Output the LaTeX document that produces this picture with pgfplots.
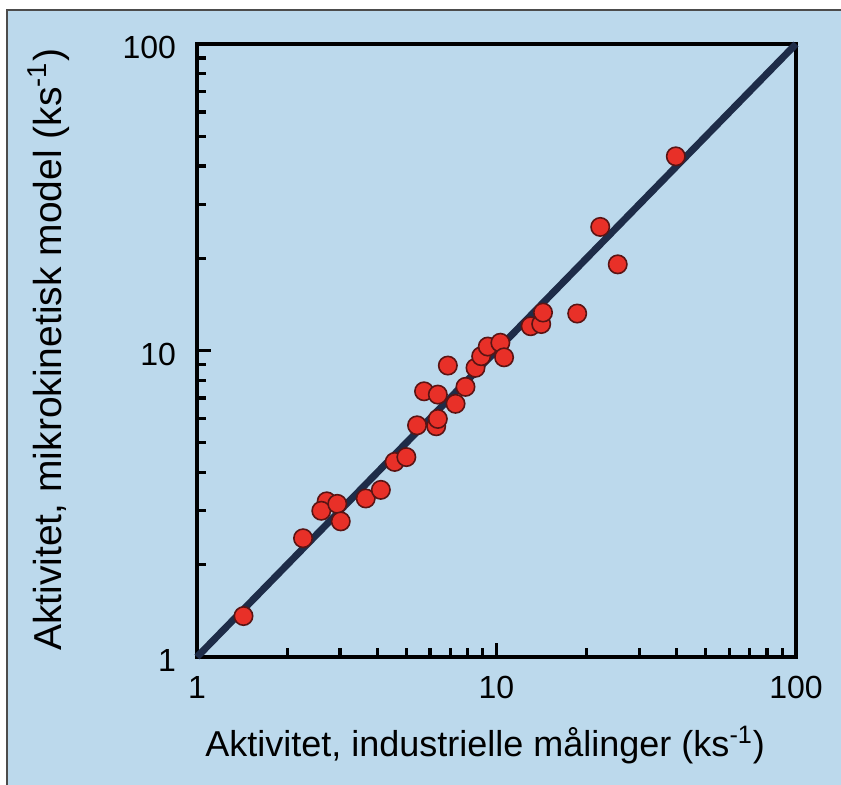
\documentclass[border=0pt]{standalone}
\usepackage{pgfplots}
\pgfplotsset{compat=1.18}
\usepackage{fontspec}
\setmainfont{Liberation Sans}
\definecolor{panelblue}{RGB}{188,217,236}
\definecolor{navy}{RGB}{30,44,72}
\definecolor{dotred}{RGB}{232,48,40}
\definecolor{dotedge}{RGB}{90,20,20}
\begin{document}
\begin{tikzpicture}[x=1pt,y=1pt]
\useasboundingbox (0,0) rectangle (420.5,392.5);
\fill[white] (0,0) rectangle (420.5,392.5);
\fill[panelblue] (3.5,0) rectangle (420.5,387.5);
\draw[line width=0.8pt, black!70] (3.5,0) -- (3.5,387.5) -- (420.5,387.5);
\begin{axis}[
  at={(98.5pt,64pt)}, anchor=south west,
  scale only axis, width=299.5pt, height=306.5pt,
  xmode=log, ymode=log,
  xmin=1, xmax=100, ymin=1, ymax=100,
  axis line style={line width=2.2pt, black},
  xtick pos=left, ytick pos=left,
  xtick={1,10,100}, ytick={1,10,100},
  xticklabels={1,10,100}, yticklabels={1,10,100},
  tick align=inside,
  major tick length=7pt, minor tick length=4.5pt,
  every tick/.style={black, line width=1.6pt},
  /pgf/number format/assume math mode=true,
  tick label style={font=\fontsize{16}{18}\selectfont},
  xticklabel style={yshift=-6pt},
  yticklabel style={xshift=-7pt, yshift=-2pt},
  xlabel={Aktivitet, industrielle målinger (ks\textsuperscript{-1})},
  ylabel={Aktivitet, mikrokinetisk model (ks\textsuperscript{-1})},
  xlabel style={font=\fontsize{18}{21}\selectfont, at={(axis description cs:0.481,-0.1436)}, anchor=center},
  ylabel style={font=\fontsize{19.5}{22}\selectfont, at={(axis description cs:-0.248,0.501)}, anchor=center, rotate=0},
  clip=false,
]
\addplot[navy, line width=3.5pt] coordinates {(1,1) (100,100)};
\addplot[only marks, mark=*, mark size=4.6pt,
  mark options={fill=dotred, draw=dotedge, line width=0.8pt}] table {
x y
1.43 1.36
2.26 2.44
2.71 3.22
2.60 3.00
2.94 3.16
3.02 2.77
3.66 3.29
4.11 3.51
4.57 4.33
5.00 4.49
5.43 5.70
6.29 5.66
6.37 5.98
5.73 7.36
6.37 7.18
7.30 6.70
7.88 7.61
6.88 8.93
8.51 8.78
8.89 9.58
9.35 10.3
10.3 10.6
10.6 9.5
13.0 12.0
14.1 12.2
14.3 13.3
18.6 13.2
22.2 25.3
25.4 19.1
39.7 43.0
};
\end{axis}
\end{tikzpicture}
\end{document}
